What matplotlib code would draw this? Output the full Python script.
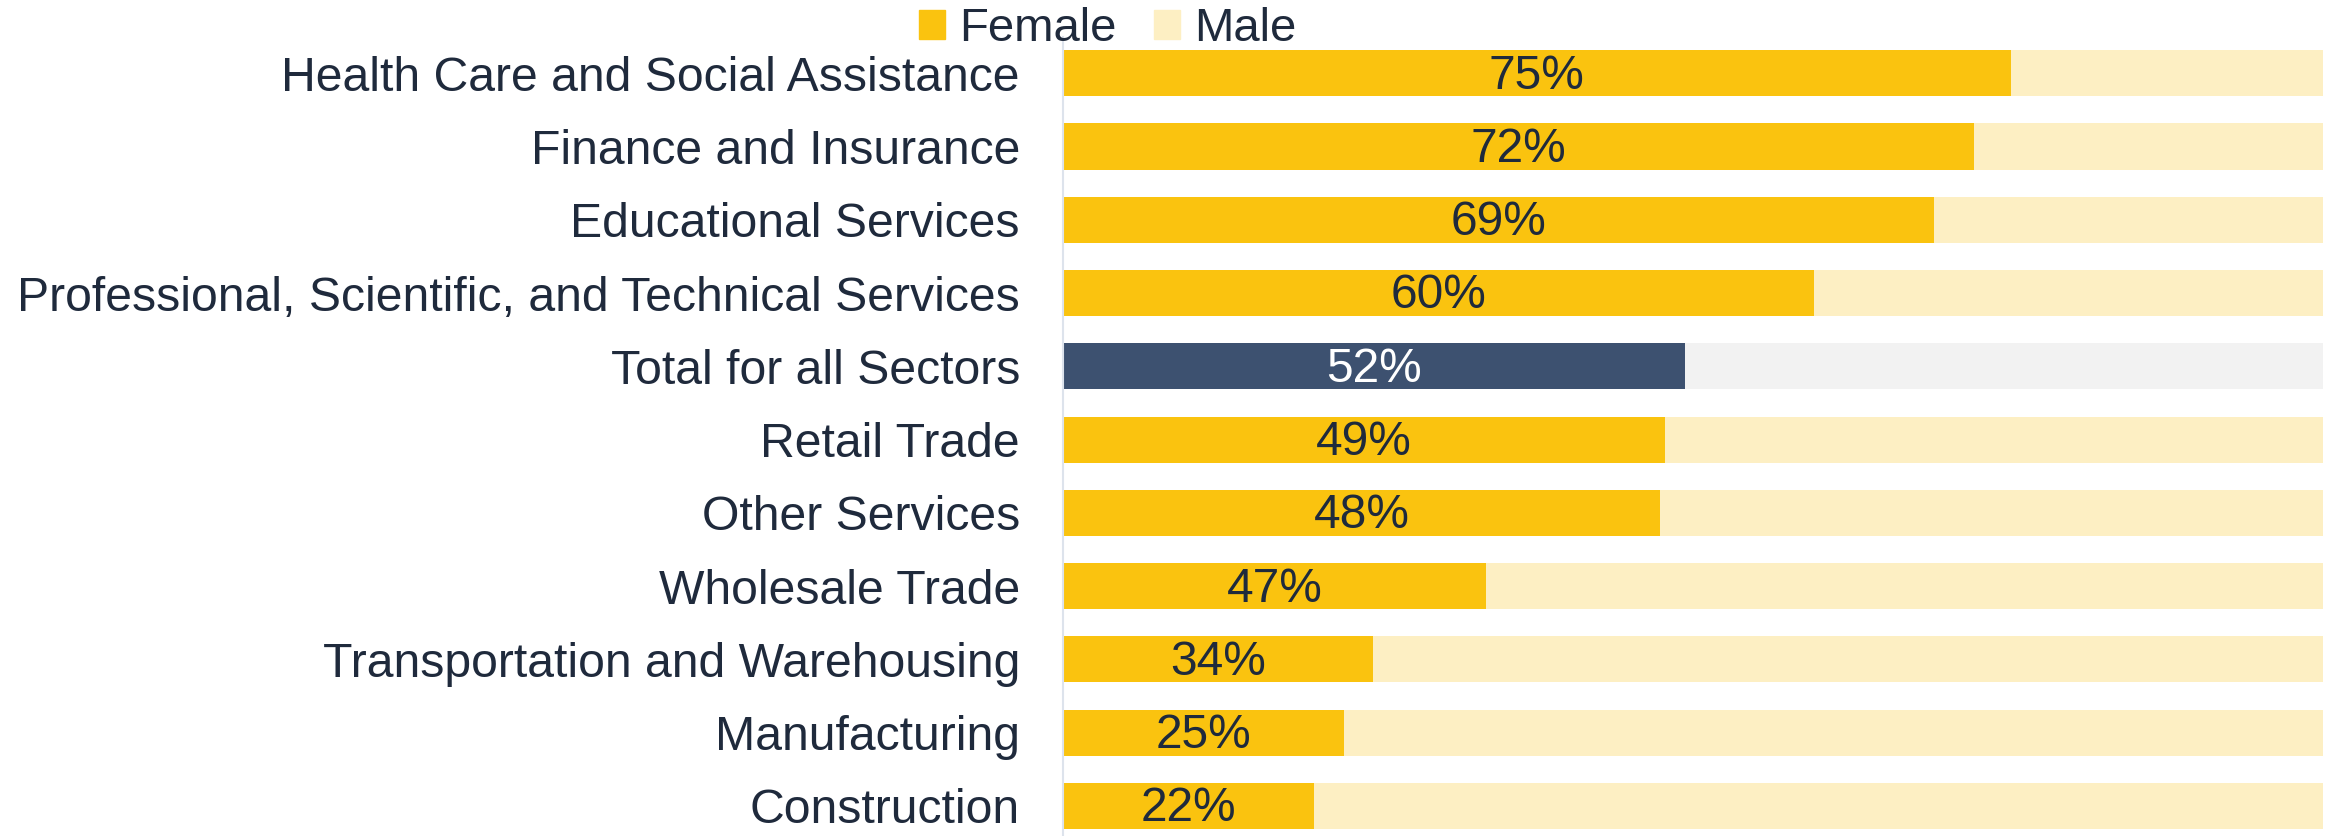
import matplotlib.pyplot as plt
from matplotlib.patches import Patch

plt.rcParams['font.family'] = ['Liberation Sans', 'DejaVu Sans']

sectors = ['Health Care and Social Assistance', 'Finance and Insurance',
           'Educational Services', 'Professional, Scientific, and Technical Services',
           'Total for all Sectors', 'Retail Trade', 'Other Services',
           'Wholesale Trade', 'Transportation and Warehousing',
           'Manufacturing', 'Construction']
# bar lengths as drawn in the reference
female = [0.752, 0.723, 0.691, 0.596, 0.494, 0.478, 0.474, 0.336, 0.246, 0.223, 0.199]
labels = ['75%', '72%', '69%', '60%', '52%', '49%', '48%', '47%', '34%', '25%', '22%']
total_idx = 4

c_f = '#fac30f'
c_m = '#fdefc3'
c_tot = '#3d5170'
c_tot_m = '#f2f2f2'
txt = '#1f2a3c'

fig = plt.figure(figsize=(23.31, 8.36), dpi=100)
ax = fig.add_axes([1063/2331, 0, 1260/2331, 1 - 36.6/836])

y = list(range(len(sectors)))
male = [1 - v for v in female]
fcol = [c_tot if i == total_idx else c_f for i in y]
mcol = [c_tot_m if i == total_idx else c_m for i in y]
ax.barh(y, female, height=0.63, color=fcol)
ax.barh(y, male, left=female, height=0.63, color=mcol)

for i in y:
    ax.text(female[i] / 2, i + 0.04, labels[i], ha='center', va='center', fontsize=34.5,
            color='white' if i == total_idx else txt)

ax.set_xlim(0, 1)
ax.set_ylim(10.41, -0.5)
ax.set_yticks(y)
ax.set_yticklabels(sectors, fontsize=34.7, color=txt)
ax.tick_params(axis='y', length=0, pad=31)
ax.set_xticks([])
for s in ['top', 'right', 'bottom']:
    ax.spines[s].set_visible(False)
ax.spines['left'].set_color('#dde3ec')
ax.spines['left'].set_linewidth(1.5)

handles = [Patch(color=c_f, label='Female'), Patch(color=c_m, label='Male')]
fig.legend(handles=handles, loc='center', bbox_to_anchor=(1108/2331, 1 - 29/836),
           ncol=2, frameon=False, fontsize=34, handlelength=0.55, handleheight=0.55,
           handletextpad=0.3, columnspacing=0.8, labelcolor=txt, borderpad=0)

fig.savefig('out.png', dpi=100)
